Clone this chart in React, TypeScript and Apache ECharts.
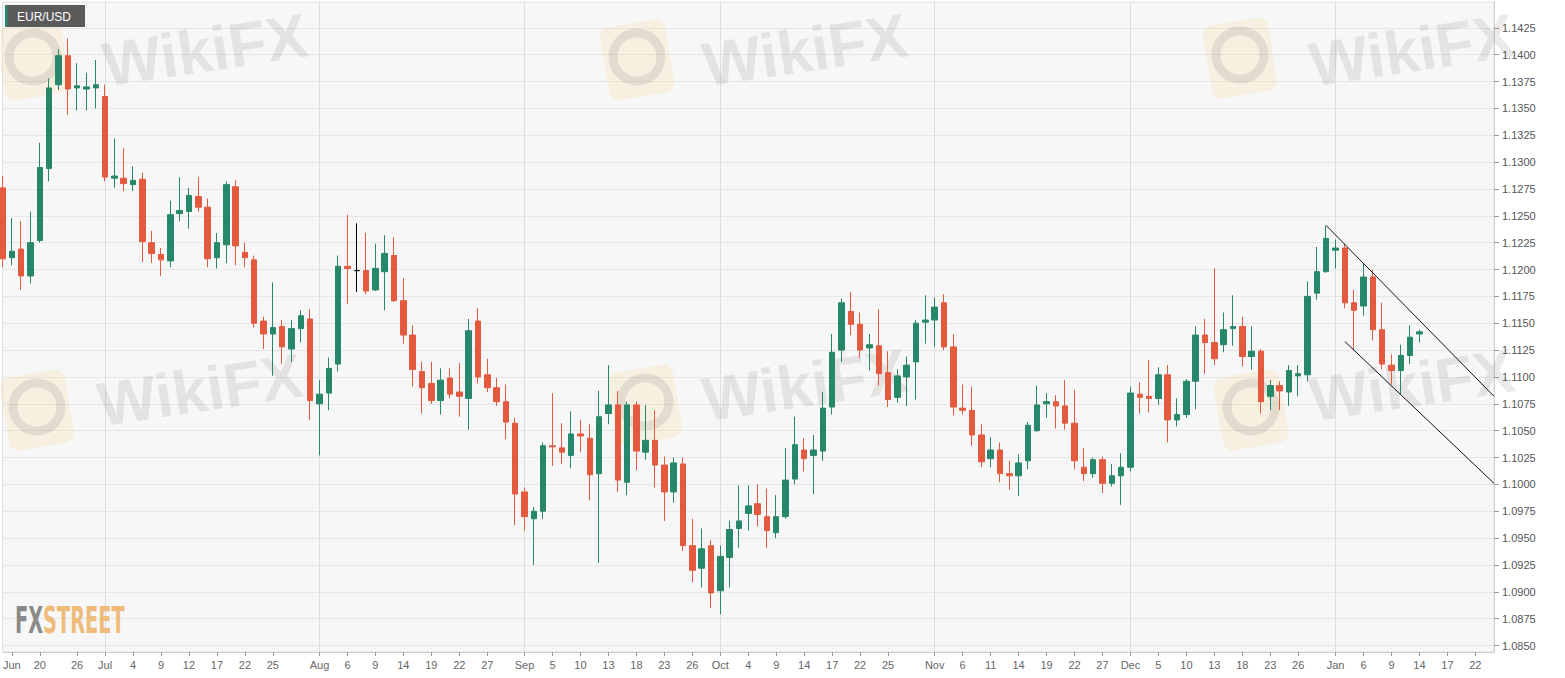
import React, { useEffect, useRef } from "react";
import * as echarts from "echarts";

// ---------- DATA ----------
// Trading days shown on the category axis (MM-DD), Jun 14 2019 .. Jan 24 2020
const tradingDays: string[] = [
  "06-14","06-17","06-18","06-19","06-20","06-21","06-24","06-25","06-26","06-27","06-28",
  "07-01","07-02","07-03","07-04","07-05","07-08","07-09","07-10","07-11","07-12","07-15","07-16","07-17","07-18","07-19","07-22","07-23","07-24","07-25","07-26","07-29","07-30","07-31",
  "08-01","08-02","08-05","08-06","08-07","08-08","08-09","08-12","08-13","08-14","08-15","08-16","08-19","08-20","08-21","08-22","08-23","08-26","08-27","08-28","08-29","08-30",
  "09-02","09-03","09-04","09-05","09-06","09-09","09-10","09-11","09-12","09-13","09-16","09-17","09-18","09-19","09-20","09-23","09-24","09-25","09-26","09-27","09-30",
  "10-01","10-02","10-03","10-04","10-07","10-08","10-09","10-10","10-11","10-14","10-15","10-16","10-17","10-18","10-21","10-22","10-23","10-24","10-25","10-28","10-29","10-30","10-31",
  "11-01","11-04","11-05","11-06","11-07","11-08","11-11","11-12","11-13","11-14","11-15","11-18","11-19","11-20","11-21","11-22","11-25","11-26","11-27","11-28","11-29",
  "12-02","12-03","12-04","12-05","12-06","12-09","12-10","12-11","12-12","12-13","12-16","12-17","12-18","12-19","12-20","12-23","12-24","12-25","12-26","12-27","12-30","12-31",
  "01-01","01-02","01-03","01-06","01-07","01-08","01-09","01-10","01-13","01-14","01-15","01-16","01-17","01-20","01-21","01-22","01-23","01-24",
];

// Daily EUR/USD candles [open, high, low, close], one per trading day from 06-14
const candles: number[][] = [
  [1.1276,1.1287,1.1202,1.1210],[1.1211,1.1248,1.1204,1.1217],[1.1219,1.1245,1.1181,1.1194],[1.1194,1.1254,1.1187,1.1225],
  [1.1227,1.1318,1.1225,1.1295],[1.1294,1.1378,1.1282,1.1369],[1.1372,1.1405,1.1367,1.1399],[1.1399,1.1415,1.1344,1.1368],
  [1.1369,1.1392,1.1348,1.1371],[1.1368,1.1383,1.1348,1.1370],[1.1369,1.1395,1.1350,1.1372],
  [1.1361,1.1372,1.1282,1.1286],[1.1285,1.1322,1.1276,1.1287],[1.1285,1.1313,1.1273,1.1280],[1.1279,1.1296,1.1273,1.1283],
  [1.1284,1.1290,1.1207,1.1226],[1.1225,1.1236,1.1206,1.1215],[1.1214,1.1220,1.1194,1.1209],[1.1208,1.1264,1.1202,1.1251],
  [1.1252,1.1286,1.1245,1.1255],[1.1254,1.1276,1.1238,1.1269],[1.1268,1.1286,1.1254,1.1258],[1.1258,1.1266,1.1202,1.1210],
  [1.1211,1.1234,1.1201,1.1225],[1.1223,1.1282,1.1206,1.1279],[1.1277,1.1283,1.1204,1.1222],[1.1216,1.1225,1.1202,1.1211],
  [1.1209,1.1213,1.1146,1.1150],[1.1152,1.1156,1.1126,1.1140],[1.1140,1.1188,1.1101,1.1146],[1.1147,1.1153,1.1112,1.1128],
  [1.1126,1.1153,1.1114,1.1145],[1.1145,1.1162,1.1132,1.1157],[1.1154,1.1163,1.1060,1.1078],
  [1.1075,1.1097,1.1027,1.1084],[1.1085,1.1118,1.1069,1.1108],[1.1112,1.1213,1.1105,1.1203],[1.1203,1.1251,1.1168,1.1201],
  [1.1199,1.1243,1.1179,1.1199],[1.1199,1.1234,1.1177,1.1180],[1.1181,1.1224,1.1180,1.1201],[1.1198,1.1232,1.1162,1.1215],
  [1.1213,1.1230,1.1170,1.1171],[1.1171,1.1192,1.1131,1.1139],[1.1139,1.1148,1.1091,1.1107],[1.1105,1.1114,1.1066,1.1090],
  [1.1094,1.1114,1.1075,1.1078],[1.1078,1.1108,1.1065,1.1097],[1.1099,1.1108,1.1080,1.1084],[1.1086,1.1113,1.1063,1.1082],
  [1.1080,1.1154,1.1051,1.1143],[1.1152,1.1164,1.1094,1.1100],[1.1102,1.1117,1.1086,1.1090],[1.1090,1.1099,1.1073,1.1077],
  [1.1077,1.1093,1.1042,1.1058],[1.1057,1.1062,1.0962,1.0991],
  [1.0993,1.0997,1.0957,1.0970],[1.0968,1.0979,1.0925,1.0975],[1.0975,1.1039,1.0968,1.1036],[1.1036,1.1085,1.1017,1.1035],
  [1.1034,1.1057,1.1019,1.1030],[1.1027,1.1068,1.1015,1.1047],[1.1047,1.1060,1.1030,1.1045],[1.1043,1.1056,1.0985,1.1009],
  [1.1010,1.1087,1.0927,1.1063],[1.1066,1.1111,1.1056,1.1074],[1.1074,1.1087,1.0993,1.1004],[1.1002,1.1077,1.0990,1.1074],
  [1.1074,1.1077,1.1013,1.1031],[1.1030,1.1074,1.1023,1.1041],[1.1041,1.1069,1.0997,1.1018],[1.1018,1.1026,1.0966,1.0993],
  [1.0993,1.1025,1.0983,1.1020],[1.1019,1.1025,1.0938,1.0943],[1.0943,1.0968,1.0909,1.0920],[1.0922,1.0959,1.0904,1.0940],
  [1.0943,1.0948,1.0885,1.0899],
  [1.0901,1.0943,1.0879,1.0933],[1.0932,1.0966,1.0904,1.0958],[1.0959,1.0999,1.0941,1.0966],[1.0973,1.0999,1.0957,1.0980],
  [1.0982,1.1000,1.0961,1.0972],[1.0970,1.0996,1.0941,1.0957],[1.0955,1.0990,1.0950,1.0970],[1.0970,1.1034,1.0968,1.1004],
  [1.1005,1.1063,1.1000,1.1037],[1.1032,1.1043,1.1012,1.1024],[1.1027,1.1046,1.0991,1.1032],[1.1031,1.1086,1.1022,1.1071],
  [1.1072,1.1140,1.1065,1.1123],[1.1125,1.1173,1.1114,1.1169],[1.1161,1.1179,1.1139,1.1149],[1.1149,1.1160,1.1118,1.1125],
  [1.1127,1.1140,1.1106,1.1130],[1.1129,1.1163,1.1092,1.1103],[1.1104,1.1124,1.1072,1.1079],[1.1081,1.1107,1.1076,1.1101],
  [1.1100,1.1119,1.1073,1.1111],[1.1114,1.1153,1.1079,1.1150],[1.1151,1.1176,1.1131,1.1153],
  [1.1153,1.1174,1.1128,1.1165],[1.1169,1.1177,1.1125,1.1128],[1.1128,1.1140,1.1064,1.1072],[1.1071,1.1093,1.1065,1.1069],
  [1.1069,1.1091,1.1036,1.1046],[1.1046,1.1056,1.1016,1.1021],[1.1024,1.1044,1.1016,1.1032],[1.1032,1.1039,1.1002,1.1010],
  [1.1010,1.1022,1.0995,1.1008],[1.1008,1.1028,1.0989,1.1020],[1.1022,1.1058,1.1014,1.1055],[1.1050,1.1092,1.1049,1.1074],
  [1.1075,1.1085,1.1062,1.1077],[1.1077,1.1083,1.1052,1.1073],[1.1073,1.1097,1.1051,1.1057],[1.1057,1.1088,1.1014,1.1022],
  [1.1016,1.1034,1.1003,1.1010],[1.1010,1.1025,1.1006,1.1023],[1.1023,1.1026,1.0992,1.1001],[1.1001,1.1019,1.0998,1.1008],
  [1.1008,1.1029,1.0981,1.1016],
  [1.1016,1.1091,1.1012,1.1085],[1.1084,1.1095,1.1066,1.1081],[1.1082,1.1116,1.1067,1.1080],[1.1080,1.1109,1.1074,1.1102],
  [1.1102,1.1111,1.1039,1.1060],[1.1060,1.1080,1.1054,1.1065],[1.1065,1.1098,1.1062,1.1096],[1.1096,1.1147,1.1070,1.1139],
  [1.1139,1.1154,1.1103,1.1132],[1.1132,1.1201,1.1111,1.1117],[1.1130,1.1160,1.1123,1.1144],[1.1145,1.1176,1.1129,1.1147],
  [1.1147,1.1156,1.1110,1.1119],[1.1119,1.1147,1.1107,1.1124],[1.1124,1.1126,1.1066,1.1077],[1.1082,1.1097,1.1069,1.1092],
  [1.1092,1.1096,1.1069,1.1087],[1.1086,1.1111,1.1073,1.1106],[1.1101,1.1111,1.1082,1.1103],[1.1102,1.1189,1.1096,1.1175],
  [1.1178,1.1221,1.1172,1.1198],[1.1198,1.1241,1.1197,1.1229],
  [1.1218,1.1228,1.1201,1.1220],[1.1220,1.1224,1.1164,1.1169],[1.1169,1.1181,1.1125,1.1162],[1.1166,1.1206,1.1157,1.1193],
  [1.1193,1.1200,1.1134,1.1144],[1.1144,1.1169,1.1107,1.1112],[1.1111,1.1121,1.1093,1.1106],[1.1106,1.1130,1.1084,1.1120],
  [1.1120,1.1148,1.1112,1.1137],[1.1140,1.1144,1.1132,1.1142],
];

// Days drawn as a neutral (black) doji
const dojiDays: string[] = ["08-07"];

// Y axis tick values
const yTicks: number[] = [
  1.085, 1.0875, 1.09, 1.0925, 1.095, 1.0975, 1.1, 1.1025, 1.105, 1.1075, 1.11, 1.1125,
  1.115, 1.1175, 1.12, 1.1225, 1.125, 1.1275, 1.13, 1.1325, 1.135, 1.1375, 1.14, 1.1425,
];
const yMin = 1.0844;
const yMax = 1.1449;

// X axis tick labels [day, label]
const xTickLabels: [string, string][] = [
  ["06-17","Jun"],["06-20","20"],["06-26","26"],["07-01","Jul"],["07-04","4"],["07-09","9"],["07-12","12"],
  ["07-17","17"],["07-22","22"],["07-25","25"],["08-01","Aug"],["08-06","6"],["08-09","9"],["08-14","14"],
  ["08-19","19"],["08-22","22"],["08-27","27"],["09-02","Sep"],["09-05","5"],["09-10","10"],["09-13","13"],
  ["09-18","18"],["09-23","23"],["09-26","26"],["10-01","Oct"],["10-04","4"],["10-09","9"],["10-14","14"],
  ["10-17","17"],["10-22","22"],["10-25","25"],["11-01","Nov"],["11-06","6"],["11-11","11"],["11-14","14"],
  ["11-19","19"],["11-22","22"],["11-27","27"],["12-02","Dec"],["12-05","5"],["12-10","10"],["12-13","13"],
  ["12-18","18"],["12-23","23"],["12-26","26"],["01-01","Jan"],["01-06","6"],["01-09","9"],["01-14","14"],
  ["01-17","17"],["01-22","22"],
];

// Month boundaries with a vertical grid line
const monthStarts: string[] = ["07-01","08-01","09-02","10-01","11-01","12-02","01-01"];

// Descending channel lines [fromDay, fromValue, toDay, toValue]
const channelLines: [string, number, string, number][] = [
  ["12-31", 1.1241, "01-24", 1.1082],
  ["01-02", 1.1133, "01-24", 1.1001],
];

// ---------- STYLE ----------
const UP = "#27876b";
const DOWN = "#e35a3f";
const FONT = "'Liberation Sans', Arial, Helvetica, sans-serif";

function watermark(tx: number, ty: number, lx: number, ly: number): any[] {
  return [
    {
      type: "rect",
      x: lx, y: ly, rotation: 0.17, z: 1, silent: true,
      shape: { x: -33, y: -37, width: 66, height: 74, r: 10 },
      style: { fill: "rgba(250,205,110,0.17)" },
    },
    {
      type: "circle",
      x: lx, y: ly - 3, z: 1, silent: true,
      shape: { cx: 0, cy: 0, r: 24 },
      style: { fill: "none", stroke: "rgba(120,120,120,0.16)", lineWidth: 9 },
    },
    {
      type: "text",
      x: tx, y: ty, rotation: 0.15, z: 1, silent: true,
      style: {
        text: "WikiFX", fontSize: 62, fontWeight: "bold", fontFamily: FONT,
        fill: "rgba(130,110,110,0.15)", align: "center", verticalAlign: "middle",
      },
    },
  ];
}

export default function App() {
  const ref = useRef<HTMLDivElement>(null);

  useEffect(() => {
    if (!ref.current) return;
    const chart = echarts.init(ref.current, undefined, { renderer: "svg" });
    const labelMap = new Map<string, string>(xTickLabels);

    const seriesData = candles.map((c, i) => {
      const day = tradingDays[i];
      const value = [c[0], c[3], c[2], c[1]]; // open, close, low, high
      if (dojiDays.includes(day)) {
        return {
          value,
          itemStyle: { color: "#000", color0: "#000", borderColor: "#000", borderColor0: "#000", borderColorDoji: "#000" },
        };
      }
      return value;
    });

    const option: any = {
      animation: false,
      backgroundColor: "#ffffff",
      grid: {
        left: 0, right: 71, top: 2, bottom: 26,
        show: true, backgroundColor: "#f7f7f7", borderColor: "#dfe1ea", borderWidth: 1,
      },
      xAxis: {
        type: "category",
        data: tradingDays,
        boundaryGap: false,
        axisLine: { show: true, lineStyle: { color: "#cfcfcf" } },
        axisTick: {
          show: true, length: 4, interval: (_i: number, v: string) => labelMap.has(v),
          lineStyle: { color: "#9a9a9a" },
        },
        axisLabel: {
          interval: (_i: number, v: string) => labelMap.has(v),
          formatter: (v: string) => labelMap.get(v) || "",
          color: "#666", fontSize: 11, margin: 7, fontFamily: FONT,
        },
        splitLine: {
          show: true, interval: (_i: number, v: string) => monthStarts.includes(v),
          lineStyle: { color: "#dedede", width: 1 },
        },
      },
      yAxis: {
        type: "value",
        position: "right",
        min: yMin,
        max: yMax,
        axisLine: { show: true, lineStyle: { color: "#cfcfcf" } },
        axisTick: { show: true, length: 5, customValues: yTicks, lineStyle: { color: "#9a9a9a" } },
        axisLabel: {
          customValues: yTicks,
          formatter: (v: number) => v.toFixed(4),
          color: "#555", fontSize: 11, margin: 8, fontFamily: FONT,
        },
        splitLine: { show: true, lineStyle: { color: "#e6e6e6", width: 1 } },
      },
      series: [
        {
          type: "candlestick",
          data: seriesData,
          barWidth: 6,
          clip: true,
          z: 3,
          itemStyle: {
            color: UP, color0: DOWN, borderColor: UP, borderColor0: DOWN, borderWidth: 1,
          },
          markLine: {
            silent: true,
            symbol: ["none", "none"],
            label: { show: false },
            lineStyle: { color: "#111", width: 1, type: "solid" },
            emphasis: { disabled: true },
            data: channelLines.map((l) => [
              { coord: [l[0], l[1]] },
              { coord: [l[2], l[3]] },
            ]),
          },
        },
      ],
      graphic: {
        elements: [
          ...watermark(205, 50, 33, 60),
          ...watermark(805, 50, 637, 60),
          ...watermark(1412, 50, 1240, 58),
          ...watermark(200, 390, 37, 410),
          ...watermark(805, 385, 645, 405),
          ...watermark(1412, 385, 1251, 410),
          {
            type: "rect", x: 5, y: 5, z: 10, silent: true,
            shape: { x: 0, y: 0, width: 80, height: 22 },
            style: { fill: "#5a5a5a" },
          },
          {
            type: "rect", x: 5, y: 5, z: 11, silent: true,
            shape: { x: 0, y: 0, width: 2.5, height: 22 },
            style: { fill: UP },
          },
          {
            type: "text", x: 17, y: 16.5, z: 11, silent: true,
            style: {
              text: "EUR/USD", fill: "#ffffff", fontSize: 12, fontFamily: FONT,
              align: "left", verticalAlign: "middle",
            },
          },
          {
            type: "text", x: 15, y: 620, z: 10, silent: true, scaleX: 0.58,
            style: {
              text: "{a|FX}{b|STREET}",
              align: "left", verticalAlign: "middle",
              rich: {
                a: { fontSize: 37, fontWeight: "bold", fill: "#8a8a8a", fontFamily: "'Liberation Sans Narrow', 'DejaVu Sans Condensed', " + FONT },
                b: { fontSize: 37, fontWeight: "bold", fill: "#eebb7a", fontFamily: "'Liberation Sans Narrow', 'DejaVu Sans Condensed', " + FONT },
              },
            },
          },
        ],
      },
    };

    chart.setOption(option);
    return () => chart.dispose();
  }, []);

  return (
    <div
      ref={ref}
      style={{ position: "absolute", left: 0, top: 0, width: 1565, height: 678, background: "#fff" }}
    />
  );
}
